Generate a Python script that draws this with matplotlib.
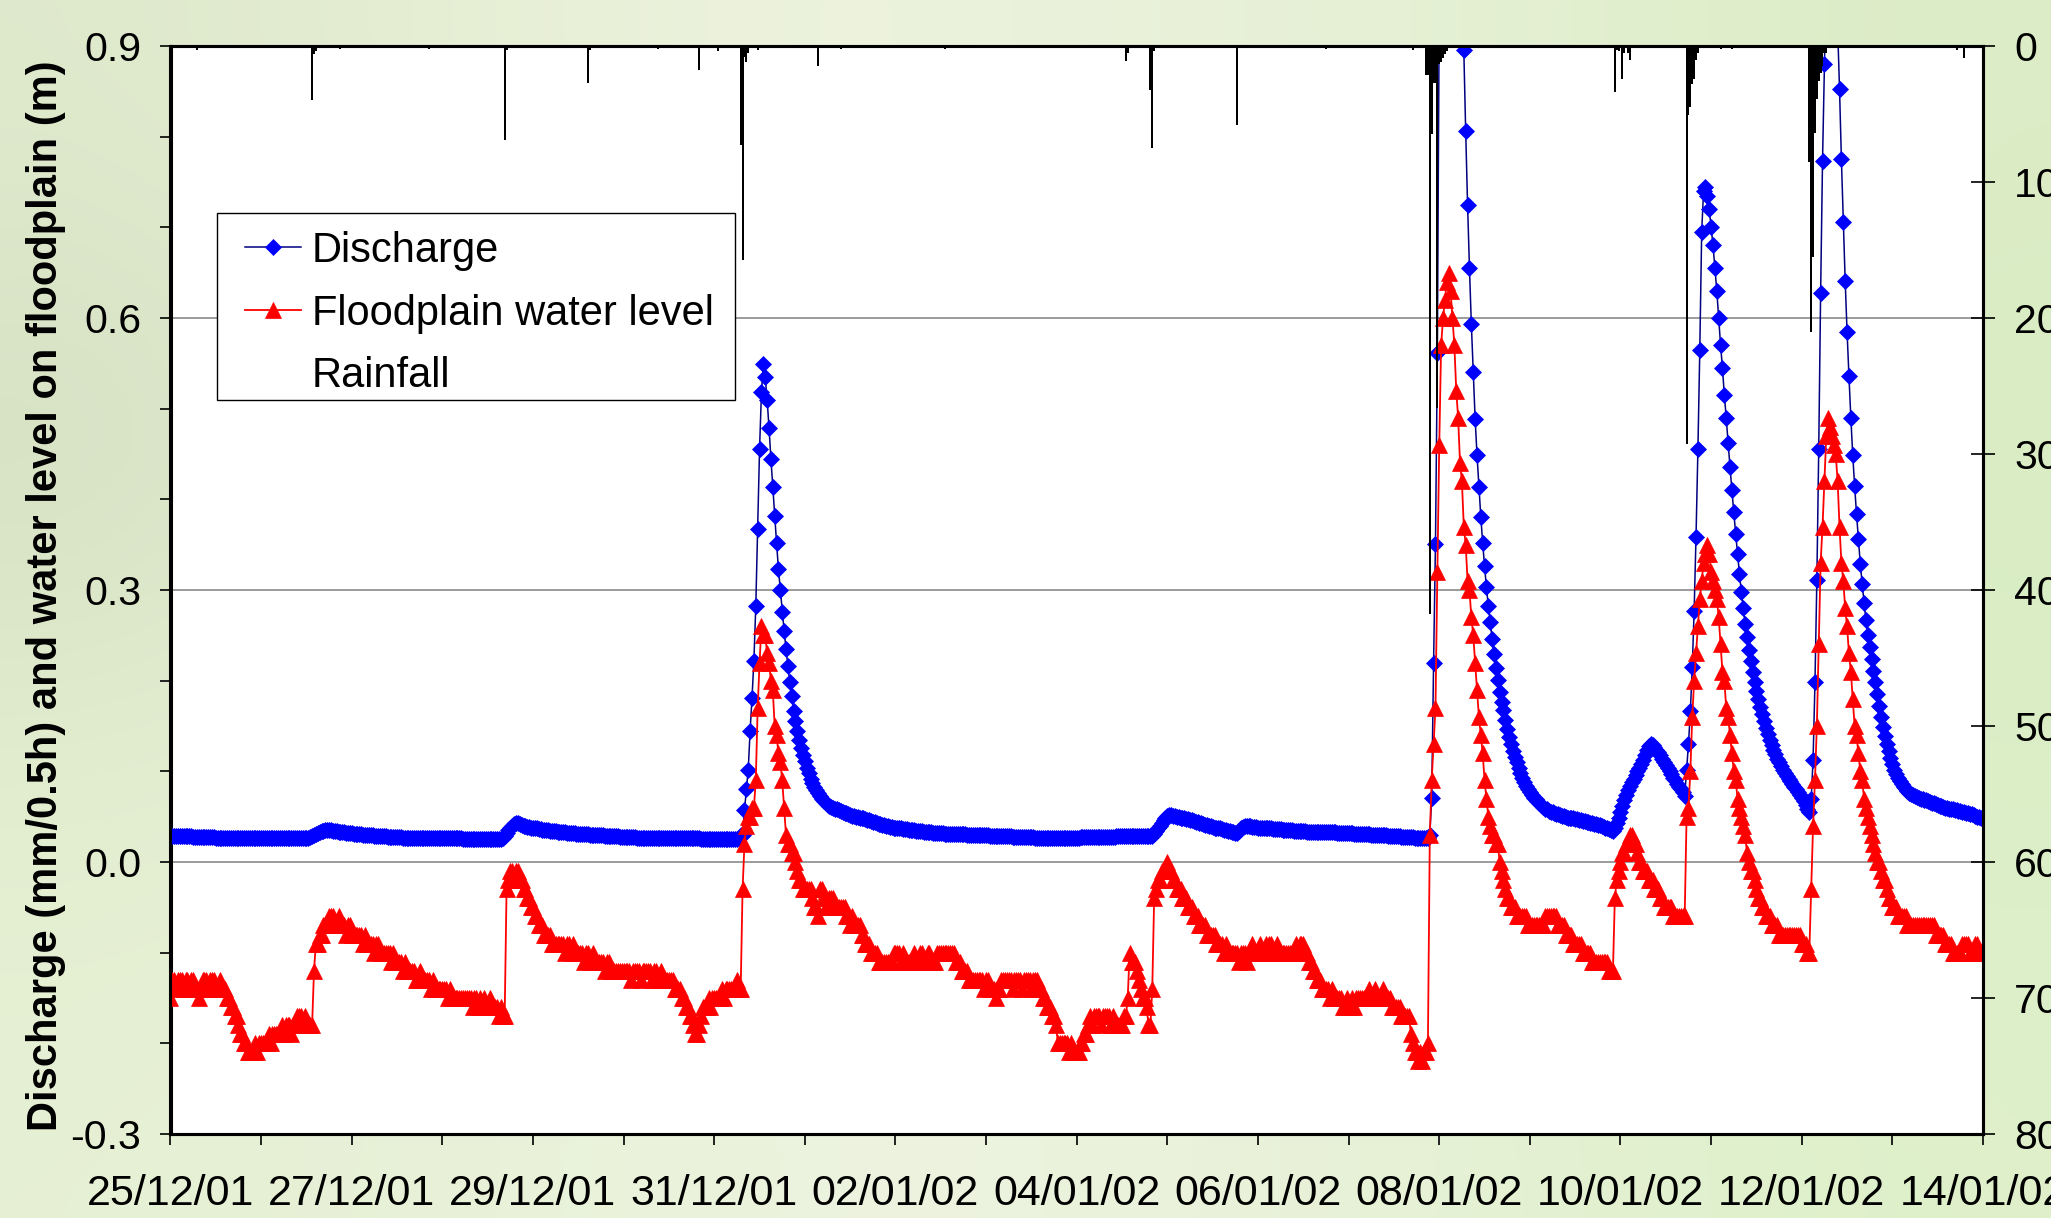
import matplotlib as mpl
mpl.use("Agg")
import numpy as np
import pandas as pd
import matplotlib.pyplot as plt
import matplotlib.dates as mdates
from matplotlib.lines import Line2D
from matplotlib.patches import Patch, Rectangle

plt.rcParams['font.family'] = ['Liberation Sans', 'DejaVu Sans']

# half-hourly record, 25/12/01 00:00 -> 14/01/02 00:00
N = 961
START = "2001-12-25 00:00"

# discharge, 1/1000 mm per half hour; (first half-hour index, values)
discharge_segments = [
    (0, "29 29 29 29 29 29 29 29 29 29 29 29 28 28 28 28 28 28 28 28 28 28 28 28 "
        "27 27 27 27 27 27 27 27 27 27 27 27 27 27 27 27 "
        "26 26 26 26 26 26 26 26 26 26 26 26 26 26 26 26 26 26 26 26 "
        "26 26 26 26 26 26 26 26 26 26 26 26 26"),
    (73, "27 28 29 30 31 32 33 34 34 35 35 35 35 34"),
    (87, "34 34 33 33 33 33 32 32 32 32 31 31 31 31 31 30 30 30 30 30 "
         "30 29 29 29 29 29 29 29 28 28 28 28 28 28 28 28 27 27 27 27 "
         "27 27 27 27 27 27 26 26 26 26 26 26 26 26 26 26 26 26 26 26 "
         "26 26 26 26 26 26 26 26 25 25 25 25 25 25 25 25 25 25 25 25 "
         "25 25 25 25 25 25 25 25 25"),
    (176, "26 29 32 35 38 40 42 43 43 42 41 40"),
    (188, "40 39 39 38 38 37 37 36 36 35 35 "
          "35 35 34 34 34 34 33 33 33 33 33 32 32 32 32 32 31 31 31 31 "
          "31 31 31 30 30 30 30 30 30 30 30 29 29 29 29 29 29 29 29 28 "
          "28 28 28 28 28 28 28 28 27 27 27 27 27 27 27 27 27 27 27 27 "
          "27 27 26 26 26 26 26 26 26 26 26 26 26 26 26 26 26 26 26 26 "
          "26 26 25 25 25 25 25 25 25 25 25 25 25 25 25 25 25 25 25 25 "
          "25 25 26 30"),
    (303, "30 57 80 102 145 181 222 282 367 456 518 549"),
    (315, "535 510 479 445 414 382 352 323 300 276 255 235 216 199 183 167 "
          "155 145 135 126 118 111 104 98 92 87 83 79 76 73 70 67 65 63 "
          "62 61 60 59 58 57 56 55 54 54 53 52 51 51 50 50 49 "
          "48 48 47 46 46 45 44 44 43 42 42 41 41 40 40 39 39 38 38 37 37 "
          "37 36 36 36 35 35 35 35 34 34 34 34 33 33 33 33 33 32 32 32 32 32 32 31 31 31 31"),
    (414, "31 31 31 31 31 31 31 31 30 30 30 30 30 30 30 30 30 30 30 30 "
          "29 29 29 29 29 29 29 29 29 29 29 29 28 28 28 28 28 28 28 28 "
          "28 28 28 28 27 27 27 27 27 27 27 27 27 27 27 27 27 27 27 27 "
          "27 27 27 27 27 27 27 27 28 28 28 28 28 28 28 28 28 28 28 28 "
          "28 28 28 28 28 28 28 29 29 29 29 29 29 29 29 29 29 29 29 29 "
          "29 29 29 29 29 29"),
    (520, "29 31 34 37 40 43 46 49 51 52 52 51 "
          "51 50 50 49 49 48 47 47 46 46 45 44 44 43 43 42 41 41 40 40 "
          "39 38 38 37 37 36 35 35 34 34 33 33 32 32 "
          "34 37 39 40 40 40 "
          "40 39 39 39 38 38 38 38 37 37 37 37 36 36 36 36 36 35 35 35 "
          "35 35 35 34 34 34 34 34 34 34 33 33 33 33 33 33 33 33 33 33 "
          "33 33 33 33 33 33 32 32 32 32 32 32 32 32 32 31 31 31 31 31 "
          "31 31 31 31 30 30 30 30 30 30 30 30 30 29 29 29 29 29 29 29 "
          "28 28 28 28 28 28 28 27 27 27 27 26 26 26 26 30"),
    (668, "71 220 351 561 950 1150 1280 1350 1380 1370 1330 1260 1180 1100 1030 970 930 "
          "896 806 725 655 593 540 489 449 414 381 "
          "352 326 303 282 265 246 229 214 201 187 "
          "177 168 157 147 138 130 122 116 110 104 "
          "98 93 88 84 80 77 74 71 69 67 65 63 61 59 58 56 55 55 54 53 "
          "53 52 51 51 50 49 49 48 48 47 47 46 46 45 45 44 44 43 43 42 "
          "42 41 41 40 39 38 37 36 35 34 "
          "38 43 49 55 62 68 74 79 84 88 92 96 100 104 108 112 118 124 128 130 "
          "129 127 124 121 118 114 110 107 104 100 97 93 90 86 83 80 77 73"),
    (803, "102 130 166 215 277 359 455 565 695 740 745 735"),
    (815, "720 700 680 655 630 600 570 545 515 490 "
          "462 436 410 386 362 340 318 298 280 263 "
          "248 234 222 210 199 189 180 171 163 155 "
          "148 141 135 129 124 119 114 110 106 102 "
          "98 95 92 89 86 83 80 77 74 71 "
          "67 63 58"),
    (868, "55 70 113 198 311 456 628 773 880 980 1050 1090 1080 1040 980 920 "
          "853 775 706 641 585 536 490 449 415 384 356 329 307 286 267 250 237 224 211 198 "
          "185 172 160 149 139 130 122 115 108 102 97 93 89 86 83 80 78 76 75 74 "
          "73 72 71 70 69 68 68 67 66 65 65 64 63 62 62 61 60 60 59 58 "
          "58 57 57 56 56 55 55 54 54 53 53 52 51 50 50 49 48"),
]

# floodplain water level, cm
level_segments = [
    (0, "-15 -13 -13 -14 -13 -13 -13 -14 -13 -13 -14 -13 -13 -14 -14 -15 -14 -13 -13 -13 "
        "-14 -13 -13 -13 -14 -14 -13 -14 -14 -14 -15 -15 -16 -16 -17 -17 -18 -19 -19 -20 "
        "-20 -21 -21 -21 -21 -20 -21 -20 -20 -20 -20 -20 -19 -20 -19 -19 -19 -19 -19 -18 "
        "-19 -18 -18 -18 -19 -18 -18 -17 -17 -17 -18 -17 -18 -18 -18 -18"),
    (76, "-12 -9 -9 -8 -8 -7 -7 -7 -6 -6 -6 -7 -7 -6 -7 -7 -7 -8 -7 -7 "
         "-8 -8 -8 -8 -8 -8 -9 -8 -9 -9 -9 -9 -10 -9 -9 -10 -10 -10 -10 -10 "
         "-10 -11 -10 -11 -11 -11 -11 -12 -11 -12 -12 -12 -12 -12 -13 -13 -12 -13 -13 -13 "
         "-13 -13 -14 -13 -14 -14 -14 -14 -14 -14 -14 -15 -14 -15 -15 -15 -15 -15 -15 -15 "
         "-15 -15 -15 -15 -16 -15 -15 -16 -15 -16 -15 -16 -16 -15 -16 -16 -16 -16 -17 -16 -17 -17"),
    (178, "-3 -2 -1 -1 -2 -1 -1 -2 -2 -3 -3 -4 -4 -5 -5 -6 -6 -7 -7 -7 "
          "-8 -8 -8 -8 -9 -9 -9 -9 -9 -9 -9 -10 -9 -9 -10 -9 -10 -10 -10 -10 "
          "-10 -11 -10 -10 -11 -11 -10 -11 -11 -11 -11 -11 -12 -11 -11 -12 -12 -12 -12 -12 "
          "-12 -12 -12 -12 -12 -12 -13 -12 -12 -12 -12 -13 -12 -12 -12 -12 -12 -13 -12 -12 "
          "-13 -13 -12 -13 -13 -13 -13 -13 -13 -14 -14 -14 -14 -15 -15 -16 -16 -17 -17 -18 "
          "-19 -19 -18 -17 -16 -16 -16 -15 -16 -15 -15 -15 -15 -15 -14 -15 -14 -14 -14 -14 "
          "-14 -14 -13 -14 -14"),
    (303, "-3 2 4 5 5 6 6 9 17 22 26 25 25 23 22 20 19 15 14 12 "
          "11 9 6 3 2 2 1 1 0 -1 -2 -2 -3 -3 -3 -3 -3 -4 -5 -5 "
          "-6 -3 -3 -4 -5 -5 -4 -4 -4 -5 -5 -5 -5 -5 -5 -6 -6 -7 -6 -7 "
          "-7 -7 -7 -8 -8 -9 -9 -9 -10 -10 -10 -10 -11 -11 -11 -11 -11 -11 -11 -11 "
          "-10 -10 -10 -10 -11 -10 -11 -11 -11 -11 -11 -10 -11 -11 -10 -10 -11 -11 -10 -10 "
          "-11 -11 -11 -10 -10 -10 -10 -10 -10 -10 -10 -10 -10 -11 -11 -11 -12 -12 -12 -12 "
          "-13 -13 -13 -13 -13 -13 -13 -13 -14 -13 -13 -14 -14 -14 -15 -14 -14 -13 -13 -13 "
          "-13 -13 -13 -14 -13 -13 -13 -13 -14 -13 -13 -13 -13 -14 -13 -13 -13 -14 -14 -15 "
          "-15 -16 -16 -16 -17 -17 -18 -20 -20 -20 -20 -20 -20 -21 -20 -21 -21 -21 -21 -20 "
          "-20 -19 -19 -18 -17 -18 -17 -17 -17 -17 -18 -17 -17 -17 -17 -18 -17 -18 -18 -18 "
          "-18 -18 -17 -17 -15 -10 -11 -11 -11 -12 -13 -14 -15 -15 -16 -18 -18 -14"),
    (521, "-4 -3 -2 -2 -1 -1 -1 0 -1 -1 -2 -2 -3 -3 -3 -4 -4 -4 -5 -5 "
          "-5 -6 -6 -6 -7 -7 -7 -7 -8 -8 -8 -8 -8 -9 -9 -9 -9 -10 -9 -10 "
          "-10 -10 -10 -10 -10 -11 -10 -10 -10 -11 -10 -10 -9 -10 -10 -10 -9 -10 -10 -9 "
          "-10 -9 -9 -10 -10 -9 -10 -10 -10 -10 -10 -10 -10 -10 -10 -9 -10 -9 -9 -9 "
          "-10 -10 -11 -11 -12 -12 -13 -13 -13 -14 -14 -14 -14 -15 -14 -15 -15 -15 -15 -15 "
          "-16 -16 -15 -16 -16 -15 -16 -15 -15 -15 -15 -15 -15 -15 -14 -15 -15 -14 -15 -15 "
          "-15 -14 -15 -15 -15 -15 -16 -16 -16 -16 -16 -17 -17 -17 -17 -17 -19 -20 -21 -21 "
          "-22 -21 -22 -21 -21 -20"),
    (667, "3 9 13 17 32 46 57 60 62 64 65 63 60 57 52 49 44 42 37 35 "
          "31 30 27 25 22 19 16 14 12 9 7 5 4 3 3 2 2 0 -1 -2 "
          "-3 -4 -4 -5 -5 -5 -6 -6 -6 -6 -6 -6 -7 -7 -7 -7 -7 -7 -7 -7 "
          "-7 -6 -6 -6 -6 -6 -6 -6 -7 -7 -7 -7 -8 -8 -8 -8 -9 -9 -9 -9 "
          "-9 -10 -10 -10 -10 -10 -11 -11 -11 -11 -11 -11 -11 -11 -11 -12 -12 -12 "
          "-4 -2 -1 0 1 1 2 2 3 3 2 2 1 0 0 -1 -1 -1 -2 -2 "
          "-2 -3 -3 -3 -4 -4 -5 -5 -5 -5 -5 -6 -6 -6 -6 -6 -6 -6"),
    (803, "5 6 10 16 20 23 26 29 31 33 34 35 34 32 31 30 29 27 24 21 "
          "20 17 16 14 12 10 9 7 6 5 4 3 1 0 -1 -1 -2 -3 -4 -4 "
          "-5 -5 -6 -6 -6 -7 -7 -7 -7 -8 -8 -8 -8 -8 -8 -8 -8 -8 -8 -8 "
          "-8 -9 -9 -9 -10 -10"),
    (869, "-3 4 9 15 24 33 37 42 47 49 48 47 46 45 42 37 33 31 28 26 "
          "23 21 18 15 14 12 10 9 7 6 5 4 3 2 1 0 0 -1 -2 -2 "
          "-3 -4 -4 -5 -5 -5 -6 -6 -6 -6 -6 -7 -7 -7 -7 -7 -7 -7 -7 -7 "
          "-7 -7 -7 -7 -7 -7 -8 -8 -8 -8 -8 -9 -9 -9 -9 -10 -10 -10 -10 -10 "
          "-9 -9 -9 -9 -10 -10 -10 -9 -9 -10 -10 -10"),
]

# rainfall, mm per half hour (half-hour index, amount)
rain_index = [14, 75, 76, 77, 90, 137, 177, 178, 221, 222, 258, 280, 290,
              302, 303, 304, 305, 306, 311, 343, 355, 410, 506, 507,
              519, 520, 521, 565, 612, 658,
              665, 666, 667, 668, 669, 670, 671, 672, 673, 674, 675, 676,
              765, 766, 767, 769, 770, 772, 773,
              803, 804, 805, 806, 807, 808, 809, 821, 827,
              868, 869, 870, 871, 872, 873, 874, 875, 876, 877, 946, 950]
rain_mm = [0.3, 4.0, 0.6, 0.4, 0.2, 0.2, 6.9, 0.3, 2.7, 0.3, 0.2, 1.8, 0.4,
           7.3, 15.7, 0.8, 1.2, 0.5, 0.3, 1.5, 0.2, 0.2, 1.1, 0.5,
           3.2, 7.5, 0.4, 5.8, 0.2, 0.3,
           2.1, 2.1, 41.8, 6.5, 2.7, 2.7, 26.6, 1.3, 1.2, 0.9, 0.6, 0.4,
           3.4, 0.3, 0.4, 2.4, 0.5, 0.5, 1.0,
           29.3, 5.1, 4.5, 2.8, 2.4, 1.0, 0.5, 0.2, 0.2,
           8.5, 21.0, 15.5, 6.4, 3.9, 2.6, 2.0, 1.5, 0.5, 0.5, 0.3, 0.9]

left_ticks = [-0.3, 0.0, 0.3, 0.6, 0.9]
left_labels = ["-0.3", "0.0", "0.3", "0.6", "0.9"]
right_ticks = [0, 10, 20, 30, 40, 50, 60, 70, 80]
series_names = ["Discharge", "Floodplain water level", "Rainfall"]

# blurred green backdrop behind the plot
backdrop = [
    ["#dfe9cc", "#e8f0d6", "#eef3df", "#e8f1d8", "#e4f0d2", "#dcecc6"],
    ["#d4dfc2", "#e6efd5", "#f0f4e4", "#eaf2dc", "#e3f0d0", "#d8ecc2"],
    ["#e3edcf", "#e9f1d9", "#eef3e0", "#ebf2dc", "#e2f0cf", "#dbeec6"],
    ["#e6f0d4", "#e9f2d9", "#edf3df", "#ebf2dc", "#e4f1d2", "#def0ca"],
]


def build(segments):
    out = np.full(N, np.nan)
    for start, text in segments:
        vals = np.array(text.split(), dtype=float)
        out[start:start + len(vals)] = vals[:N - start]
    return out


times = pd.date_range(START, periods=N, freq="30min")
x = mdates.date2num(times.to_pydatetime())
q = build(discharge_segments) / 1000.0
lev = build(level_segments) / 100.0
rx = mdates.date2num((times[0] + pd.to_timedelta(np.array(rain_index) * 30, unit="min")).to_pydatetime())

W, H = 2051, 1218
fig = plt.figure(figsize=(W / 100, H / 100), dpi=100)

bg = fig.add_axes([0, 0, 1, 1], zorder=-10)
bg.imshow(np.array([[mpl.colors.to_rgb(c) for c in row] for row in backdrop]),
          aspect="auto", interpolation="bicubic", extent=[0, 1, 0, 1])
bg.axis("off")

l, r, t, b = 170.5, 1983, 46, 1134
ax = fig.add_axes([l / W, 1 - b / H, (r - l) / W, (b - t) / H])
ax.set_facecolor("white")

blue_style = dict(color="#000080", lw=1.1, marker="D", ms=8.5,
                  mfc="#0000ff", mec="#0000ff", mew=0.5)
red_style = dict(color="#ff0000", lw=1.3, marker="^", ms=12,
                 mfc="#ff0000", mec="#ff0000", mew=0.5)
ax.plot(x, q, zorder=3, **blue_style)
ax.plot(x, lev, zorder=4, **red_style)

ax.set_xlim(x[0], x[-1])
ax.set_ylim(-0.3, 0.9)
ax.set_yticks(left_ticks)
ax.set_yticklabels(left_labels)
ax.set_yticks(np.arange(-3, 10) / 10.0, minor=True)
ax.grid(axis="y", which="major", color="#808080", lw=1.1)
ax.set_axisbelow(True)

major_days = pd.date_range("2001-12-25", "2002-01-14", freq="2D")
minor_days = pd.date_range("2001-12-25", "2002-01-14", freq="1D")
ax.set_xticks(mdates.date2num(major_days.to_pydatetime()))
ax.set_xticks(mdates.date2num(minor_days.to_pydatetime()), minor=True)
ax.xaxis.set_major_formatter(mdates.DateFormatter("%d/%m/%y"))

ax.tick_params(axis="y", which="both", direction="out", length=8, width=1.2,
               pad=13, labelsize=29.5)
ax.tick_params(axis="x", which="both", direction="out", length=8, width=1.2,
               pad=21, labelsize=31)

ax2 = ax.twinx()
ax2.bar(rx, rain_mm, width=0.021, color="black", linewidth=0, zorder=2)
ax2.set_ylim(80, 0)
ax2.set_yticks(right_ticks)
ax2.tick_params(axis="y", direction="inout", length=17, width=1.2, pad=14,
                labelsize=29.5)

for a in (ax, ax2):
    for s in a.spines.values():
        s.set_linewidth(2.2)
        s.set_color("black")

# legend box
box = Rectangle((217 / W, 1 - 400 / H), (735 - 217) / W, (400 - 213) / H,
                transform=fig.transFigure, facecolor="white", edgecolor="black",
                lw=1.0, zorder=4.9, clip_on=False)
ax2.add_artist(box)

handles = [
    Line2D([], [], **blue_style),
    Line2D([], [], **red_style),
    Patch(facecolor="none", edgecolor="none"),
]
leg = ax2.legend(handles, series_names,
                 loc="upper left", bbox_to_anchor=(245 / W, 1 - 231 / H),
                 bbox_transform=fig.transFigure, borderaxespad=0, borderpad=0,
                 fontsize=30, frameon=False, handlelength=1.35,
                 handletextpad=0.25, labelspacing=0.54)
leg.set_zorder(5)

fig.text(46 / W, 1 - 596 / H,
         "Discharge (mm/0.5h) and water level on floodplain (m)",
         rotation=90, ha="center", va="center", fontsize=30,
         fontweight="bold")

fig.savefig("out.png", dpi=100)
